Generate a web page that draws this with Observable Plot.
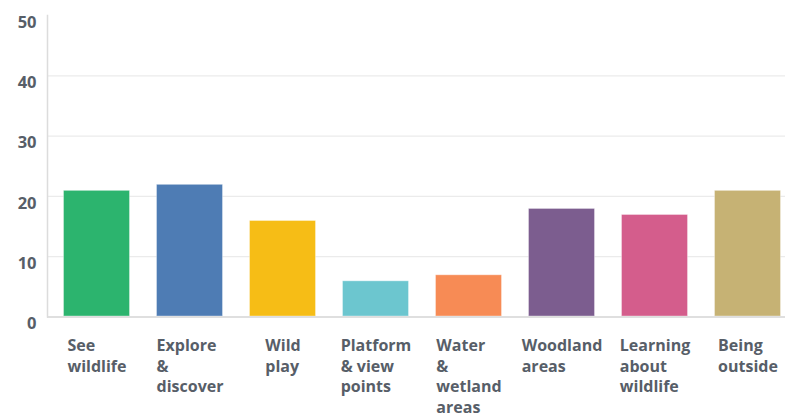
<!DOCTYPE html>
<html>
<head>
<meta charset="utf-8">
<script src="https://cdn.jsdelivr.net/npm/d3@7"></script>
<script src="https://cdn.jsdelivr.net/npm/@observablehq/plot@0.6"></script>
<style>
  html, body { margin: 0; padding: 0; background: #fff; }
  #chart { width: 785px; height: 413px; overflow: hidden; }
</style>
</head>
<body>
<div id="chart"></div>
<script>
const categories = ["See wildlife", "Explore & discover", "Wild play", "Platform & view points", "Water & wetland areas", "Woodland areas", "Learning about wildlife", "Being outside"];
const labelLines = ["See\nwildlife", "Explore\n&\ndiscover", "Wild\nplay", "Platform\n& view\npoints", "Water\n&\nwetland\nareas", "Woodland\nareas", "Learning\nabout\nwildlife", "Being\noutside"];
const values = [21, 22, 16, 6, 7, 18, 17, 21];
const colors = ["#2cb46e", "#4e7cb4", "#f6bd16", "#6cc6cf", "#f78b55", "#7c5d8f", "#d45d8c", "#c6b274"];
const yTicks = [0, 10, 20, 30, 40, 50];
const gridTicks = [10, 20, 30, 40];

const data = categories.map((c, i) => ({category: c, value: values[i], color: colors[i]}));
const labelOf = new Map(categories.map((c, i) => [c, labelLines[i]]));
const textColor = "#575e68";
const font = "'Open Sans', 'Noto Sans', sans-serif";

const chart = Plot.plot({
  width: 785,
  height: 413,
  marginTop: 15,
  marginBottom: 96.5,
  marginLeft: 47,
  marginRight: 0,
  style: {fontFamily: font, background: "#fff"},
  x: {domain: categories, range: [47, 798], paddingInner: 0.278, paddingOuter: 0.155, axis: null},
  y: {domain: [0, 50], axis: null},
  marks: [
    Plot.ruleY(gridTicks, {stroke: "#ebebeb", strokeWidth: 1.3}),
    Plot.barY(data, {x: "category", y: "value", fill: "color", stroke: "#ffffff", strokeOpacity: 0.35, strokeWidth: 1, inset: 0.5}),
    Plot.ruleY([0], {stroke: "#d4d4d4", strokeWidth: 1.5}),
    Plot.frame({anchor: "left", stroke: "#dcdcdc", strokeWidth: 1.5}),
    Plot.axisY(yTicks, {label: null, tickSize: 0, tickPadding: 11, dy: 7, fontSize: 16.5, fontWeight: 700, fill: textColor}),
    Plot.axisX({label: null, tickSize: 0, tickPadding: 19, tickFormat: d => labelOf.get(d), textAnchor: "start", lineAnchor: "top", lineHeight: 1.3, fontSize: 16, fontWeight: 700, fill: textColor})
  ]
});
document.getElementById("chart").appendChild(chart);

// left-aligned text blocks centered under each bar
chart.querySelectorAll('g[aria-label="x-axis tick label"] text').forEach(t => {
  const w = t.getBBox().width;
  const tr = t.getAttribute("transform") || "";
  t.setAttribute("transform", tr + ` translate(${-w / 2},0)`);
});
</script>
</body>
</html>
